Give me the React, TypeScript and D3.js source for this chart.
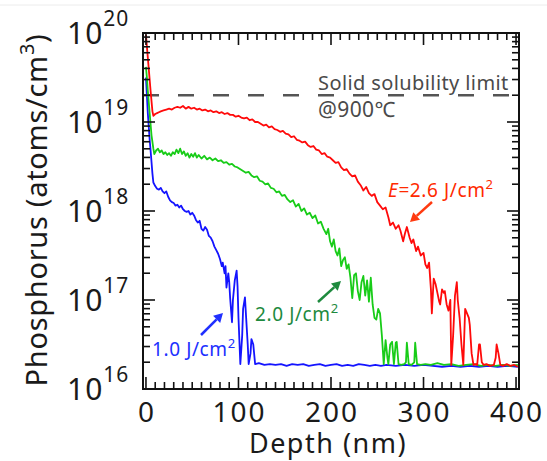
import React, { useEffect, useRef } from "react";
import * as d3 from "d3";

// depth (nm), log10 of concentration (atoms/cm^3)
const red26: [number, number][] = [
  [0, 19.98], [1, 19.85], [3, 19.6], [5, 19.35], [7, 19.12], [8, 19.07], [10, 19.09], [12, 19.1], [14, 19.11], [16, 19.12],
  [19, 19.13], [22, 19.14], [25, 19.15], [28, 19.14], [31, 19.16], [34, 19.17], [37, 19.16], [40, 19.18], [43, 19.15], [46, 19.17],
  [49, 19.15], [52, 19.16], [55, 19.14], [58, 19.15], [61, 19.13], [64, 19.14], [67, 19.12], [70, 19.13], [73, 19.11], [76, 19.12],
  [79, 19.1], [82, 19.11], [85, 19.09], [88, 19.1], [91, 19.08], [94, 19.08], [97, 19.06], [100, 19.07], [103, 19.05], [106, 19.04],
  [109, 19.05], [112, 19.02], [115, 19.03], [118, 19.0], [121, 19.0], [124, 18.98], [127, 18.96], [130, 18.97], [133, 18.94], [136, 18.95],
  [139, 18.92], [142, 18.91], [145, 18.89], [148, 18.9], [151, 18.87], [154, 18.86], [157, 18.83], [160, 18.84], [163, 18.8], [166, 18.79],
  [169, 18.77], [172, 18.78], [175, 18.74], [178, 18.72], [181, 18.73], [184, 18.69], [187, 18.68], [190, 18.64], [193, 18.65], [196, 18.61],
  [199, 18.6], [202, 18.57], [205, 18.54], [208, 18.55], [211, 18.49], [214, 18.46], [217, 18.47], [220, 18.42], [223, 18.39], [226, 18.4],
  [229, 18.33], [232, 18.29], [235, 18.23], [238, 18.27], [241, 18.2], [244, 18.17], [247, 18.19], [250, 18.1], [253, 18.06], [256, 18.02],
  [259, 18.04], [262, 17.93], [264, 17.84], [267, 17.87], [270, 17.8], [273, 17.84], [275, 17.78], [278, 17.66], [280, 17.75], [282, 17.82],
  [285, 17.7], [287, 17.64], [289, 17.68], [292, 17.55], [294, 17.6], [297, 17.5], [300, 17.53], [302, 17.4], [304, 17.36], [306, 17.42],
  [308, 17.12], [309, 16.85], [311, 17.24], [313, 17.18], [315, 17.08], [317, 16.98], [318, 16.95], [320, 17.12], [322, 17.08], [323, 17.1],
  [325, 16.95], [327, 16.88], [329, 17.0], [330, 16.27], [332, 16.6], [334, 17.05], [336, 17.2], [337, 17.0], [339, 16.8], [341, 16.5],
  [343, 16.27], [345, 16.9], [347, 16.85], [349, 16.8], [350, 16.72], [352, 16.4], [354, 16.27], [356, 16.28], [358, 16.27], [360, 16.5],
  [361, 16.5], [363, 16.3], [365, 16.27], [368, 16.28], [372, 16.26], [376, 16.27], [378, 16.35], [379, 16.5], [381, 16.4], [383, 16.27],
  [386, 16.26], [390, 16.28], [394, 16.26], [398, 16.27], [402, 16.25],
];

const green20: [number, number][] = [
  [0, 19.62], [1, 19.5], [2, 19.35], [4, 19.1], [6, 18.85], [8, 18.7], [9, 18.64], [11, 18.68], [13, 18.7], [15, 18.66],
  [17, 18.68], [19, 18.64], [21, 18.66], [23, 18.63], [25, 18.65], [27, 18.62], [29, 18.66], [31, 18.64], [33, 18.69], [35, 18.65],
  [37, 18.7], [39, 18.64], [41, 18.67], [43, 18.62], [45, 18.65], [47, 18.6], [49, 18.64], [51, 18.61], [53, 18.65], [55, 18.6],
  [57, 18.63], [60, 18.59], [63, 18.62], [66, 18.58], [69, 18.6], [72, 18.57], [75, 18.59], [78, 18.56], [81, 18.57], [84, 18.54],
  [87, 18.55], [90, 18.52], [93, 18.53], [96, 18.5], [99, 18.49], [102, 18.47], [105, 18.45], [108, 18.43], [111, 18.44], [114, 18.4],
  [117, 18.38], [120, 18.39], [123, 18.34], [126, 18.33], [129, 18.3], [132, 18.31], [135, 18.26], [138, 18.25], [141, 18.21], [144, 18.22],
  [147, 18.17], [150, 18.18], [153, 18.13], [156, 18.1], [159, 18.12], [162, 18.05], [165, 18.08], [168, 18.0], [171, 18.03], [174, 17.96],
  [177, 17.98], [180, 17.92], [183, 17.95], [186, 17.86], [189, 17.88], [192, 17.8], [195, 17.74], [197, 17.8], [199, 17.66], [201, 17.6],
  [203, 17.68], [205, 17.55], [207, 17.5], [209, 17.58], [211, 17.38], [213, 17.45], [215, 17.48], [217, 17.35], [219, 17.4], [221, 17.25],
  [223, 17.02], [225, 17.28], [227, 17.3], [229, 17.1], [231, 17.0], [233, 17.2], [235, 17.27], [237, 17.05], [239, 17.22], [241, 16.98],
  [243, 17.25], [245, 16.95], [247, 16.8], [249, 16.78], [251, 16.9], [253, 16.85], [255, 16.6], [257, 16.28], [259, 16.55], [261, 16.35],
  [262, 16.28], [264, 16.5], [266, 16.53], [268, 16.28], [270, 16.52], [271, 16.53], [273, 16.28], [276, 16.27], [279, 16.28], [281, 16.3],
  [282, 16.52], [284, 16.28], [287, 16.27], [290, 16.3], [291, 16.52], [293, 16.28], [297, 16.27], [302, 16.28], [308, 16.27], [315, 16.29],
  [322, 16.27], [330, 16.28], [338, 16.26], [346, 16.27], [354, 16.28], [362, 16.26], [370, 16.27], [378, 16.26], [386, 16.27], [394, 16.26],
  [402, 16.27],
];

const blue10: [number, number][] = [
  [0, 19.5], [1, 19.3], [2, 19.1], [3, 18.95], [4, 18.8], [5, 18.68], [6, 18.55], [7, 18.42], [8, 18.32], [10, 18.28],
  [12, 18.25], [14, 18.24], [16, 18.26], [18, 18.22], [20, 18.2], [22, 18.22], [24, 18.16], [26, 18.12], [28, 18.1], [30, 18.09],
  [32, 18.06], [34, 18.07], [36, 18.04], [38, 18.06], [40, 18.02], [42, 18.0], [44, 17.99], [46, 18.0], [48, 17.96], [50, 17.98],
  [52, 17.95], [54, 17.9], [56, 17.87], [58, 17.89], [60, 17.8], [62, 17.78], [64, 17.82], [66, 17.79], [68, 17.72], [70, 17.7],
  [72, 17.66], [74, 17.6], [76, 17.56], [78, 17.52], [80, 17.46], [82, 17.38], [83, 17.42], [85, 17.3], [86, 17.38], [87, 17.14],
  [88, 17.22], [89, 17.3], [90, 17.2], [91, 17.02], [93, 16.75], [94, 17.0], [96, 17.22], [98, 17.33], [99, 17.15], [100, 16.8],
  [102, 16.28], [104, 16.6], [105, 16.9], [107, 17.03], [108, 16.85], [110, 16.5], [111, 16.28], [113, 16.4], [114, 16.56], [116, 16.5],
  [118, 16.28], [122, 16.29], [128, 16.27], [134, 16.28], [140, 16.27], [146, 16.28], [152, 16.26], [158, 16.28], [164, 16.27], [170, 16.28],
  [176, 16.26], [182, 16.27], [188, 16.28], [194, 16.26], [200, 16.27], [206, 16.28], [212, 16.26], [218, 16.27], [224, 16.26], [230, 16.28],
  [236, 16.27], [242, 16.26], [248, 16.27], [254, 16.26], [260, 16.27], [270, 16.26], [280, 16.27], [290, 16.26], [300, 16.27], [310, 16.26],
  [320, 16.25], [330, 16.26], [340, 16.25], [350, 16.26], [360, 16.25], [370, 16.26], [380, 16.25], [390, 16.26], [402, 16.25],
];

const xTicks = [0, 100, 200, 300, 400];
const yDecades = [16, 17, 18, 19, 20];
const solubilityLimit = 2e19;

const W = 547;
const H = 461;
const left = 143, right = 519, top = 33, bottom = 389;
const FONT = "'Noto Sans', 'DejaVu Sans', sans-serif";

export default function App() {
  const ref = useRef<SVGSVGElement>(null);

  useEffect(() => {
    const svg = d3.select(ref.current);
    svg.selectAll("*").remove();

    const x = d3.scaleLinear().domain([-3.2, 403.2]).range([left, right]);
    const y = d3.scaleLog().domain([1e16, 1e20]).range([bottom, top]);

    svg.append("line").attr("x1", 0).attr("x2", W).attr("y1", 5).attr("y2", 5)
      .attr("stroke", "#ececec").attr("stroke-width", 1);

    svg.append("defs").append("clipPath").attr("id", "plotClip")
      .append("rect").attr("x", left).attr("y", top)
      .attr("width", right - left).attr("height", bottom - top);

    // solubility limit
    svg.append("line")
      .attr("x1", left).attr("x2", right)
      .attr("y1", y(solubilityLimit)).attr("y2", y(solubilityLimit))
      .attr("stroke", "#555").attr("stroke-width", 2.5)
      .attr("stroke-dasharray", "16,19");

    const line = d3.line<[number, number]>()
      .x(d => x(d[0]))
      .y(d => y(Math.pow(10, d[1])));

    const series: [[number, number][], string][] = [
      [blue10, "#1414ff"],
      [green20, "#18cc18"],
      [red26, "#ff0a0a"],
    ];
    const g = svg.append("g").attr("clip-path", "url(#plotClip)");
    series.forEach(([data, color]) => {
      g.append("path").datum(data)
        .attr("d", line)
        .attr("fill", "none")
        .attr("stroke", color)
        .attr("stroke-width", 1.8)
        .attr("stroke-linejoin", "round");
    });

    // ticks
    const ax = svg.append("g").attr("stroke", "#111").attr("stroke-width", 1.6);
    const minorX = d3.range(0, 401, 10);
    minorX.forEach(v => {
      const len = v % 100 === 0 ? 12 : 7;
      ax.append("line").attr("x1", x(v)).attr("x2", x(v)).attr("y1", bottom).attr("y2", bottom - len);
      ax.append("line").attr("x1", x(v)).attr("x2", x(v)).attr("y1", top).attr("y2", top + len);
    });
    const yMinor: number[] = [];
    yDecades.slice(0, -1).forEach(e => {
      for (let m = 1; m <= 9; m++) yMinor.push(m * Math.pow(10, e));
    });
    yMinor.push(1e20);
    yMinor.forEach(v => {
      const major = Math.abs(Math.log10(v) - Math.round(Math.log10(v))) < 1e-6;
      const len = major ? 12 : 7;
      ax.append("line").attr("x1", left).attr("x2", left + len).attr("y1", y(v)).attr("y2", y(v));
      ax.append("line").attr("x1", right).attr("x2", right - len).attr("y1", y(v)).attr("y2", y(v));
    });

    svg.append("rect")
      .attr("x", left).attr("y", top)
      .attr("width", right - left).attr("height", bottom - top)
      .attr("fill", "none").attr("stroke", "#111").attr("stroke-width", 2);

    // x tick labels
    svg.append("g").selectAll("text").data(xTicks).join("text")
      .attr("x", d => x(d) + 1).attr("y", 422)
      .attr("text-anchor", "middle")
      .attr("font-family", FONT).attr("font-size", 28).attr("letter-spacing", 2)
      .attr("fill", "#1a1a1a")
      .text(d => String(d));

    // y tick labels
    const yl = svg.append("g").attr("font-family", FONT).attr("fill", "#1a1a1a");
    yDecades.forEach(e => {
      const t = yl.append("text").attr("x", 67).attr("y", y(Math.pow(10, e)) + 11)
        .attr("font-size", 30).attr("letter-spacing", 1);
      t.append("tspan").text("10");
      t.append("tspan").attr("dy", -18).attr("font-size", 21).text(String(e));
    });

    // axis titles
    svg.append("text")
      .attr("x", 328).attr("y", 453)
      .attr("text-anchor", "middle")
      .attr("font-family", FONT).attr("font-size", 27).attr("letter-spacing", 1.5)
      .attr("fill", "#1a1a1a")
      .text("Depth (nm)");

    const yt = svg.append("text")
      .attr("transform", "translate(47,210) rotate(-90)")
      .attr("text-anchor", "middle")
      .attr("font-family", FONT).attr("font-size", 29).attr("letter-spacing", 0.7)
      .attr("fill", "#1a1a1a");
    yt.append("tspan").text("Phosphorus (atoms/cm");
    yt.append("tspan").attr("dy", -13).attr("font-size", 20).text("3");
    yt.append("tspan").attr("dy", 13).text(")");

    // annotations
    const ann = svg.append("g").attr("font-family", FONT);
    ann.append("text").attr("x", 318).attr("y", 90).attr("font-size", 20).attr("letter-spacing", 0.4)
      .attr("fill", "#4a4a4a").text("Solid solubility limit");
    ann.append("text").attr("x", 318).attr("y", 117).attr("font-size", 21).attr("letter-spacing", 0.4)
      .attr("fill", "#4a4a4a").text("@900℃");

    const label = (tx: number, ty: number, color: string, parts: [string, string][]) => {
      const t = ann.append("text").attr("x", tx).attr("y", ty).attr("font-size", 19)
        .attr("letter-spacing", 0.6).attr("fill", color);
      parts.forEach(([s, kind]) => {
        const sp = t.append("tspan").text(s);
        if (kind === "i") sp.attr("font-style", "italic");
        if (kind === "sup") sp.attr("dy", -8).attr("font-size", 13);
      });
    };
    label(388, 197, "#ff2a00", [["E", "i"], ["=2.6 J/cm", ""], ["2", "sup"]]);
    label(255, 321, "#1e8a3e", [["2.0 J/cm", ""], ["2", "sup"]]);
    label(152, 356, "#2030ff", [["1.0 J/cm", ""], ["2", "sup"]]);

    const arrow = (x1: number, y1: number, x2: number, y2: number, color: string) => {
      const ang = Math.atan2(y2 - y1, x2 - x1);
      const hl = 9, hw = 5;
      const bx = x2 - hl * Math.cos(ang), by = y2 - hl * Math.sin(ang);
      ann.append("line").attr("x1", x1).attr("y1", y1).attr("x2", bx).attr("y2", by)
        .attr("stroke", color).attr("stroke-width", 2.5);
      ann.append("path")
        .attr("d", `M${x2},${y2}L${bx - hw * Math.sin(ang)},${by + hw * Math.cos(ang)}L${bx + hw * Math.sin(ang)},${by - hw * Math.cos(ang)}Z`)
        .attr("fill", color);
    };
    arrow(432, 202, 410, 222, "#ff3a10");
    arrow(318, 302, 341, 281, "#1e8a3e");
    arrow(201, 335, 223, 313, "#2030ff");
  }, []);

  return (
    <svg ref={ref} width={W} height={H}
      style={{ position: "absolute", left: 0, top: 0, background: "#fff" }} />
  );
}
